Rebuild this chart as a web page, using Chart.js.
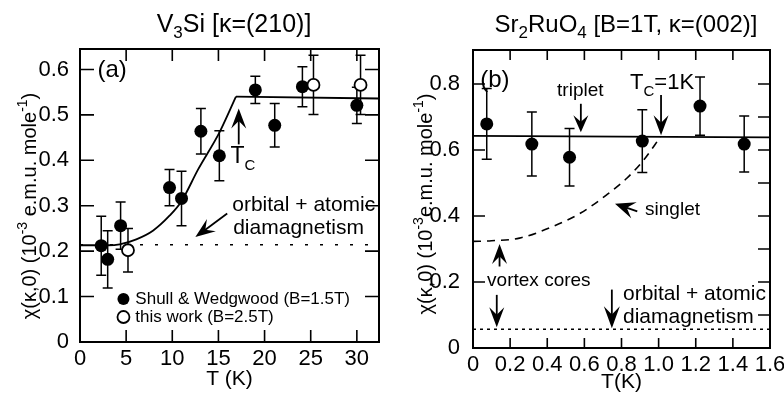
<!DOCTYPE html>
<html>
<head>
<meta charset="utf-8">
<script src="https://cdn.jsdelivr.net/npm/chart.js@4.4.0/dist/chart.umd.min.js"></script>
<style>
  html, body { margin: 0; padding: 0; background: #fff; }
  #wrap { position: relative; width: 784px; height: 395px; overflow: hidden; }
  canvas { position: absolute; top: 0; }
  #chartA { left: 0; }
  #chartB { left: 392px; }
</style>
</head>
<body>
<div id="wrap">
  <canvas id="chartA" width="392" height="395"></canvas>
  <canvas id="chartB" width="392" height="395"></canvas>
</div>
<script>
// ---- panel (a): V3Si ----
const v3siFilledT   = [2.3, 3.0, 4.4, 9.7, 11.0, 13.1, 15.1, 19.0, 21.1, 24.1, 30.0];
const v3siFilledChi = [0.212, 0.182, 0.256, 0.340, 0.316, 0.464, 0.410, 0.555, 0.477, 0.562, 0.521];
const v3siFilledErr = [0.065, 0.063, 0.052, 0.040, 0.060, 0.050, 0.055, 0.030, 0.048, 0.044, 0.040];
const v3siOpenT     = [5.2, 25.3, 30.4];
const v3siOpenChi   = [0.202, 0.566, 0.566];
const v3siOpenErr   = [0.048, 0.065, 0.065];
const v3siRiseT     = [0, 3, 4.3, 6.1, 7.9, 9.7, 11.0, 12.8, 15.1, 16.9];
const v3siRiseChi   = [0.213, 0.213, 0.215, 0.226, 0.245, 0.278, 0.310, 0.380, 0.461, 0.540];
const v3siFlatT     = [16.9, 32.4];
const v3siFlatChi   = [0.540, 0.536];
const v3siDiaT      = [0, 31.3];
const v3siDiaChi    = [0.214, 0.214];
const v3siTTicks    = [0, 5, 10, 15, 20, 25, 30];
const v3siChiTicks  = [0, 0.1, 0.2, 0.3, 0.4, 0.5, 0.6];

// ---- panel (b): Sr2RuO4 ----
const sroT          = [0.074, 0.317, 0.52, 0.912, 1.223, 1.461];
const sroChi        = [0.679, 0.618, 0.578, 0.627, 0.733, 0.618];
const sroErr        = [0.107, 0.097, 0.087, 0.095, 0.088, 0.085];
const sroTripletT   = [0, 1.6];
const sroTripletChi = [0.643, 0.638];
const sroSingletT   = [0, 0.1, 0.25, 0.43, 0.58, 0.72, 0.83, 0.92, 1.01];
const sroSingletChi = [0.323, 0.325, 0.333, 0.368, 0.409, 0.464, 0.515, 0.570, 0.640];
const sroDiaT       = [0, 1.6];
const sroDiaChi     = [0.057, 0.057];
const sroTTicks     = [0, 0.2, 0.4, 0.6, 0.8, 1, 1.2, 1.4, 1.6];
const sroChiTicks   = [0, 0.2, 0.4, 0.6, 0.8];
const sroChiMinor   = [0.1, 0.2, 0.3, 0.4, 0.5, 0.6, 0.7, 0.8];

const FONT = '"Liberation Sans", Arial, Helvetica, sans-serif';

function pts(xs, ys) { return xs.map((x, i) => ({x: x, y: ys[i]})); }

function richText(ctx, x, y, parts, align) {
  let w = 0;
  parts.forEach(p => { ctx.font = p[1] + 'px ' + FONT; w += ctx.measureText(p[0]).width; });
  let cx = align === 'center' ? x - w / 2 : x;
  ctx.textAlign = 'left';
  ctx.textBaseline = 'middle';
  parts.forEach(p => {
    ctx.font = p[1] + 'px ' + FONT;
    ctx.fillText(p[0], cx, y + (p[2] || 0));
    cx += ctx.measureText(p[0]).width;
  });
}

function arrow(ctx, x1, y1, x2, y2, len, half) {
  const a = Math.atan2(y2 - y1, x2 - x1);
  const c = Math.cos(a), s = Math.sin(a);
  ctx.beginPath();
  ctx.moveTo(x1, y1);
  ctx.lineTo(x2 - c * len * 0.6, y2 - s * len * 0.6);
  ctx.stroke();
  ctx.beginPath();
  ctx.moveTo(x2, y2);
  ctx.lineTo(x2 - c * len - s * half, y2 - s * len + c * half);
  ctx.lineTo(x2 - c * len * 0.62, y2 - s * len * 0.62);
  ctx.lineTo(x2 - c * len + s * half, y2 - s * len - c * half);
  ctx.closePath();
  ctx.fill();
}

function figurePlugin(cfg) {
  return {
    id: 'figure',
    beforeDatasetsDraw(chart) {
      const ctx = chart.ctx, xs = chart.scales.x, ys = chart.scales.y;
      ctx.save();
      ctx.strokeStyle = '#000';
      ctx.lineWidth = 1.5;
      chart.data.datasets.forEach(ds => {
        if (!ds.errors) return;
        ds.data.forEach((p, j) => {
          const px = xs.getPixelForValue(p.x);
          const top = ys.getPixelForValue(p.y + ds.errors[j]);
          const bot = ys.getPixelForValue(p.y - ds.errors[j]);
          ctx.beginPath();
          ctx.moveTo(px, top); ctx.lineTo(px, bot);
          ctx.moveTo(px - 5, top); ctx.lineTo(px + 5, top);
          ctx.moveTo(px - 5, bot); ctx.lineTo(px + 5, bot);
          ctx.stroke();
        });
      });
      ctx.restore();
    },
    afterDraw(chart) {
      const ctx = chart.ctx, a = chart.chartArea;
      const xs = chart.scales.x, ys = chart.scales.y;
      ctx.save();
      ctx.strokeStyle = '#000';
      ctx.fillStyle = '#000';
      // frame
      ctx.lineWidth = 2;
      ctx.strokeRect(a.left, a.top, a.right - a.left, a.bottom - a.top);
      // inward ticks
      ctx.lineWidth = 1.6;
      ctx.beginPath();
      xs.ticks.forEach(t => {
        const px = xs.getPixelForValue(t.value);
        if (px <= a.left + 1 || px >= a.right - 1) return;
        ctx.moveTo(px, a.bottom); ctx.lineTo(px, a.bottom - cfg.tick);
        ctx.moveTo(px, a.top); ctx.lineTo(px, a.top + cfg.tick);
      });
      ys.ticks.forEach(t => {
        const py = ys.getPixelForValue(t.value);
        if (py >= a.bottom - 1 || py <= a.top + 1) return;
        ctx.moveTo(a.left, py); ctx.lineTo(a.left + cfg.tick + 2, py);
      });
      (cfg.rightTicks || ys.ticks.map(t => t.value)).forEach(v => {
        const py = ys.getPixelForValue(v);
        if (py >= a.bottom - 1 || py <= a.top + 1) return;
        ctx.moveTo(a.right, py); ctx.lineTo(a.right - cfg.tick - 2, py);
      });
      ctx.stroke();
      // chart title
      richText(ctx, cfg.titleX, 25, cfg.title, 'center');
      // rotated y-axis title
      ctx.save();
      ctx.translate(cfg.yTitle.x, cfg.yTitle.y);
      ctx.rotate(-Math.PI / 2);
      richText(ctx, 0, 0, cfg.yTitle.parts, 'center');
      ctx.restore();
      // notes
      cfg.notes.forEach(n => {
        richText(ctx, xs.getPixelForValue(n.x), ys.getPixelForValue(n.y), n.parts, 'left');
      });
      // arrows
      ctx.lineWidth = 1.8;
      cfg.arrows.forEach(r => {
        arrow(ctx, xs.getPixelForValue(r[0]), ys.getPixelForValue(r[1]),
              xs.getPixelForValue(r[2]), ys.getPixelForValue(r[3]), r[4] || 20, r[5] || 7.5);
      });
      // legend markers
      (cfg.markers || []).forEach(m => {
        ctx.beginPath();
        ctx.arc(xs.getPixelForValue(m.x), ys.getPixelForValue(m.y), 6, 0, Math.PI * 2);
        if (m.filled) { ctx.fill(); } else { ctx.fillStyle = '#fff'; ctx.fill(); ctx.fillStyle = '#000'; ctx.lineWidth = 1.8; ctx.stroke(); }
      });
      ctx.restore();
    }
  };
}

function axisX(min, max, ticks, height, title, titlePad) {
  return {
    type: 'linear', min: min, max: max,
    afterBuildTicks: s => { s.ticks = ticks.map(v => ({value: v})); },
    afterFit: s => { s.height = height; s.paddingLeft = 0; s.paddingRight = 0; },
    grid: {display: false}, border: {display: false},
    ticks: {color: '#000', font: {family: FONT, size: 22, lineHeight: 1}, padding: -2, maxRotation: 0, autoSkip: false},
    title: {display: true, text: title, color: '#000', font: {family: FONT, size: 21}, padding: {top: 0, bottom: titlePad}}
  };
}

function axisY(min, max, ticks, width, labelPad) {
  return {
    type: 'linear', min: min, max: max,
    afterBuildTicks: s => { s.ticks = ticks.map(v => ({value: v})); },
    afterFit: s => { s.width = width; s.paddingTop = 0; s.paddingBottom = 0; },
    grid: {display: false}, border: {display: false},
    ticks: {color: '#000', font: {family: FONT, size: 22, lineHeight: 1}, padding: labelPad, autoSkip: false}
  };
}

const baseOptions = (pad, scales) => ({
  responsive: false, animation: false, events: [],
  layout: {padding: pad},
  plugins: {legend: {display: false}, tooltip: {enabled: false}},
  scales: scales
});

new Chart(document.getElementById('chartA'), {
  type: 'scatter',
  data: {
    datasets: [
      {data: pts(v3siOpenT, v3siOpenChi), errors: v3siOpenErr, pointRadius: 6, backgroundColor: '#fff', borderColor: '#000', borderWidth: 1.8},
      {data: pts(v3siFilledT, v3siFilledChi), errors: v3siFilledErr, pointRadius: 6.5, backgroundColor: '#000', borderColor: '#000', borderWidth: 0},
      {data: pts(v3siRiseT, v3siRiseChi), showLine: true, cubicInterpolationMode: 'monotone', pointRadius: 0, borderColor: '#000', borderWidth: 1.8},
      {data: pts(v3siFlatT, v3siFlatChi), showLine: true, pointRadius: 0, borderColor: '#000', borderWidth: 1.8},
      {data: pts(v3siDiaT, v3siDiaChi), showLine: true, pointRadius: 0, borderColor: '#000', borderWidth: 1.5, borderDash: [3, 12]}
    ]
  },
  options: baseOptions({left: 0, top: 49, right: 13, bottom: 0}, {
    x: axisX(0, 32.4, v3siTTicks, 53, 'T (K)', 3),
    y: axisY(0, 0.645, v3siChiTicks, 80, 3)
  }),
  plugins: [figurePlugin({
    tick: 12,
    titleX: 234,
    title: [['V', 25], ['3', 17, 8], ['Si [κ=(210)]', 25]],
    yTitle: {x: 30, y: 206, parts: [['χ(κ,0) (10', 20], ['-3', 14, -7], [' e.m.u. mole', 20], ['-1', 14, -7], [')', 20]]},
    notes: [
      {x: 1.9, y: 0.598, parts: [['(a)', 24]]},
      {x: 16.3, y: 0.408, parts: [['T', 23], ['C', 15, 9]]},
      {x: 16.5, y: 0.301, parts: [['orbital + atomic', 21]]},
      {x: 16.6, y: 0.251, parts: [['diamagnetism', 21]]},
      {x: 6.0, y: 0.0945, parts: [['Shull & Wedgwood (B=1.5T)', 17]]},
      {x: 6.0, y: 0.055, parts: [['this work (B=2.5T)', 17]]}
    ],
    arrows: [
      [17.2, 0.435, 17.2, 0.514],
      [15.95, 0.283, 12.5, 0.231]
    ],
    markers: [{x: 4.71, y: 0.0945, filled: true}, {x: 4.71, y: 0.055, filled: false}]
  })]
});

new Chart(document.getElementById('chartB'), {
  type: 'scatter',
  data: {
    datasets: [
      {data: pts(sroT, sroChi), errors: sroErr, pointRadius: 6.5, backgroundColor: '#000', borderColor: '#000', borderWidth: 0},
      {data: pts(sroTripletT, sroTripletChi), showLine: true, pointRadius: 0, borderColor: '#000', borderWidth: 1.8},
      {data: pts(sroSingletT, sroSingletChi), showLine: true, cubicInterpolationMode: 'monotone', pointRadius: 0, borderColor: '#000', borderWidth: 1.6, borderDash: [8, 6]},
      {data: pts(sroDiaT, sroDiaChi), showLine: true, pointRadius: 0, borderColor: '#000', borderWidth: 1.4, borderDash: [3, 4]}
    ]
  },
  options: baseOptions({left: 0, top: 50, right: 14, bottom: 0}, {
    x: axisX(0, 1.6, sroTTicks, 47, 'T(K)', 0),
    y: axisY(0, 0.903, sroChiTicks, 81, 5)
  }),
  plugins: [figurePlugin({
    tick: 10,
    titleX: 234,
    rightTicks: sroChiMinor,
    title: [['Sr', 24], ['2', 17, 8], ['RuO', 24], ['4', 17, 8], [' [B=1T, κ=(002)]', 24]],
    yTitle: {x: 34, y: 204, parts: [['χ(κ,0) (10', 20], ['-3', 14, -7], ['e.m.u. mole', 20], ['-1', 14, -7], [')', 20]]},
    notes: [
      {x: 0.039, y: 0.812, parts: [['(b)', 24]]},
      {x: 0.453, y: 0.779, parts: [['triplet', 19]]},
      {x: 0.846, y: 0.803, parts: [['T', 22], ['C', 15, 9], ['=1K', 22]]},
      {x: 0.927, y: 0.419, parts: [['singlet', 19]]},
      {x: 0.076, y: 0.204, parts: [['vortex cores', 19]]},
      {x: 0.808, y: 0.164, parts: [['orbital + atomic', 21]]},
      {x: 0.808, y: 0.092, parts: [['diamagnetism', 21]]}
    ],
    arrows: [
      [0.581, 0.740, 0.581, 0.654, 17, 7.5],
      [1.013, 0.767, 1.013, 0.645],
      [0.885, 0.414, 0.765, 0.437, 20, 8.5],
      [0.143, 0.247, 0.143, 0.315],
      [0.128, 0.161, 0.128, 0.063],
      [0.748, 0.177, 0.748, 0.060, 22, 8]
    ]
  })]
});
</script>
</body>
</html>
